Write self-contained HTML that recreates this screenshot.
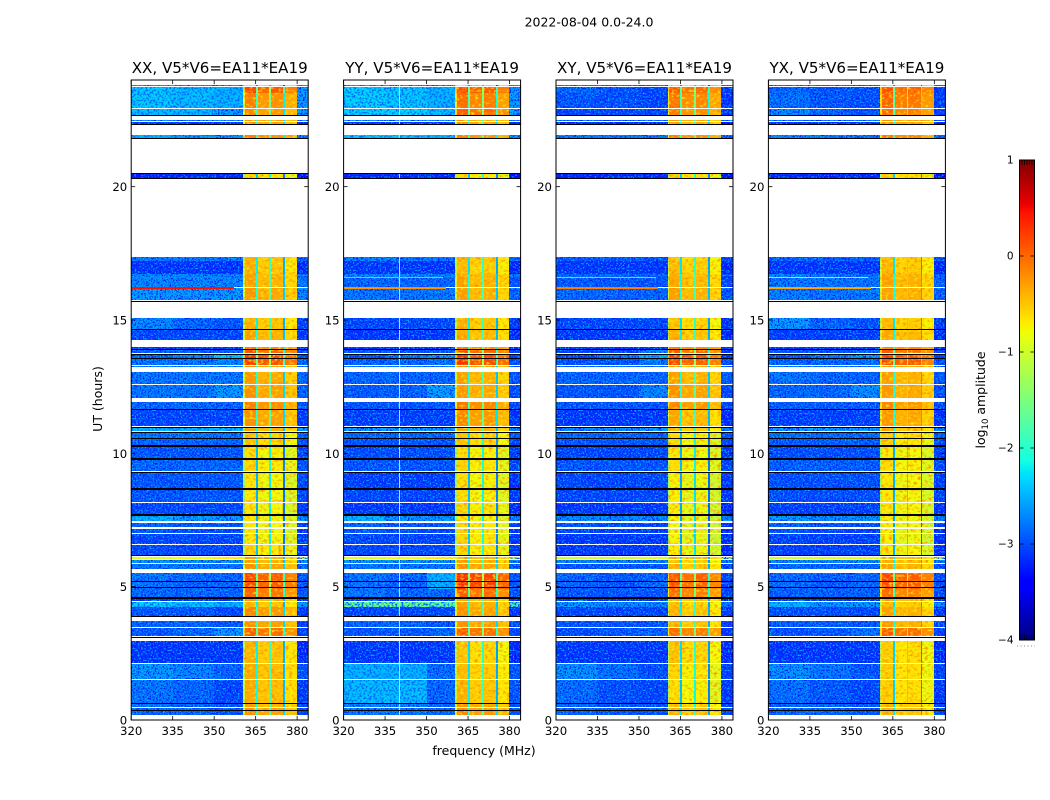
<!DOCTYPE html>
<html lang="en">
<head>
<meta charset="utf-8">
<title>2022-08-04 waterfall</title>
<style>
html,body{margin:0;padding:0;background:#fff;}
#figure{display:block;width:1050px;height:800px;}
text{font-family:"DejaVu Sans","Liberation Sans",sans-serif;fill:#000;}
</style>
</head>
<body>
<svg id="figure" xmlns="http://www.w3.org/2000/svg" width="1050" height="800" viewBox="0 0 1050 800">
<defs>
<filter id="speckle-low" x="0" y="0" width="1" height="1" color-interpolation-filters="sRGB">
<feTurbulence type="fractalNoise" baseFrequency="0.6" numOctaves="2" seed="4" result="n"/>
<feColorMatrix in="n" type="matrix" values="0 0 0 0 0  0 0 0 0 0.12  0 0 0 0 1  7 0 0 0 -3.4" result="d0"/>
<feColorMatrix in="n" type="matrix" values="0 0 0 0 0  0 0 0 0 0.66  0 0 0 0 1  0 7 0 0 -3.8" result="l0"/>
<feComposite in="d0" in2="SourceAlpha" operator="in" result="d1"/>
<feComposite in="l0" in2="SourceAlpha" operator="in" result="l1"/>
<feMerge><feMergeNode in="SourceGraphic"/><feMergeNode in="d1"/><feMergeNode in="l1"/></feMerge>
</filter>
<filter id="speckle-soft" x="0" y="0" width="1" height="1" color-interpolation-filters="sRGB">
<feTurbulence type="fractalNoise" baseFrequency="0.5" numOctaves="2" seed="7" result="n"/>
<feColorMatrix in="n" type="matrix" values="0 0 0 0 0  0 0 0 0 0.42  0 0 0 0 1  7 0 0 0 -3.4" result="d0"/>
<feComposite in="d0" in2="SourceAlpha" operator="in" result="d1"/>
<feMerge><feMergeNode in="SourceGraphic"/><feMergeNode in="d1"/></feMerge>
</filter>
<filter id="speckle-band" x="0" y="0" width="1" height="1" color-interpolation-filters="sRGB">
<feTurbulence type="fractalNoise" baseFrequency="0.28 0.4" numOctaves="2" seed="9" result="n"/>
<feColorMatrix in="n" type="matrix" values="0 0 0 0 1  0 0 0 0 0.55  0 0 0 0 0  3 0 0 0 -1.45" result="d0"/>
<feColorMatrix in="n" type="matrix" values="0 0 0 0 0.95  0 0 0 0 0.95  0 0 0 0 0.1  0 3 0 0 -1.6" result="l0"/>
<feComposite in="d0" in2="SourceAlpha" operator="in" result="d1"/>
<feComposite in="l0" in2="SourceAlpha" operator="in" result="l1"/>
<feMerge><feMergeNode in="SourceGraphic"/><feMergeNode in="d1"/><feMergeNode in="l1"/></feMerge>
</filter>
</defs>
<text x="589" y="26.5" font-size="12.5" text-anchor="middle">2022-08-04 0.0-24.0</text>
<text x="484" y="755" font-size="12.5" text-anchor="middle">frequency (MHz)</text>
<text transform="translate(102,399) rotate(-90)" font-size="12.5" text-anchor="middle">UT (hours)</text>
<g id="panels"></g>
<g id="colorbar"></g>
<text transform="translate(985,400) rotate(-90)" font-size="12.5" text-anchor="middle">log<tspan font-size="8.5" dy="3">10</tspan><tspan dy="-3"> amplitude</tspan></text>
</svg>
<script>
// ---- data (UT hours, MHz, log10 amplitude) ----
const panelTitles = ['XX, V5*V6=EA11*EA19','YY, V5*V6=EA11*EA19','XY, V5*V6=EA11*EA19','YX, V5*V6=EA11*EA19'];
const xTickLabels = [320,335,350,365,380];
const yTickLabels = [0,5,10,15,20];
const colorbarTicks = [-4,-3,-2,-1,0,1];
const rowStart = [0.20,0.48,0.65,1.54,2.12,3.15,3.49,3.87,4.25,4.48,4.62,4.90,5.65,5.90,6.02,6.20,6.60,7.02,7.22,7.45,7.72,8.18,8.68,9.33,9.82,10.30,10.58,10.83,11.02,11.67,12.09,12.61,13.24,13.33,13.58,13.75,13.92,14.25,14.67,15.74,16.25,16.62,16.74,17.23,20.31,21.81,22.35,22.46,22.68,22.96,23.50,23.80];
const rowEnd   = [0.45,0.65,1.50,2.09,2.97,3.45,3.70,4.25,4.44,4.62,4.90,5.50,5.85,6.00,6.10,6.55,6.99,7.18,7.40,7.65,8.12,8.62,9.28,9.76,10.25,10.54,10.79,10.98,11.63,11.92,12.57,13.04,13.29,13.54,13.71,13.88,13.98,14.63,15.07,16.20,16.60,16.71,17.20,17.37,20.50,21.94,22.43,22.50,22.92,23.50,23.75,23.83];
// each entry: [320-335, 335-350, 350-360, band 361-380]
const xxLevels = [[-2.85,-2.85,-2.95,-0.3],[-2.75,-2.85,-2.95,-0.4],[-2.75,-2.85,-3.05,-0.45],[-2.55,-2.65,-2.85,-0.45],[-3.15,-3.15,-3.15,-0.5],[-2.95,-2.85,-2.55,0],[-2.85,-2.85,-2.95,-0.3],[-2.95,-2.95,-3.05,-0.25],[-2.3,-2.4,-2.45,-0.5],[-3.15,-3.15,-3.15,-0.4],[-2.85,-2.85,-2.85,-0.05],[-2.75,-2.85,-2.85,0.1],[-2.75,-2.75,-2.75,-0.3],[-2.55,-2.55,-2.55,-0.4],[-0.9,-0.8,-0.7,-0.4],[-3.05,-3.05,-3.05,-0.7],[-3.05,-3.05,-3.05,-0.8],[-2.95,-3.05,-3.05,-0.8],[-2.85,-2.95,-2.95,-0.8],[-2.45,-2.55,-2.55,-0.8],[-3.05,-3.05,-3.05,-0.8],[-2.95,-2.95,-2.95,-0.8],[-2.95,-2.95,-2.95,-0.8],[-2.85,-2.85,-2.85,-0.7],[-2.95,-2.95,-2.95,-0.75],[-2.85,-2.85,-2.85,-0.6],[-2.75,-2.75,-2.75,-0.6],[-2.45,-2.45,-2.45,-0.4],[-3.05,-3.05,-3.05,-0.3],[-2.85,-2.85,-2.85,-0.2],[-2.75,-2.75,-2.55,-0.3],[-2.75,-2.75,-2.75,-0.35],[-2.65,-2.65,-2.65,-0.3],[-2.75,-2.75,-2.65,0.15],[-2.85,-2.65,-2.35,0.2],[-2.85,-2.85,-2.85,0.05],[-3.15,-3.15,-3.15,-0.2],[-3.05,-3.05,-3.05,-0.4],[-2.65,-2.85,-2.95,-0.5],[-2.55,-2.55,-2.55,-0.35],[-2.65,-2.65,-2.65,-0.4],[-2.65,-2.65,-2.65,-0.4],[-3.15,-3.15,-3.15,-0.5],[-2.75,-2.75,-2.75,-0.5],[-3.25,-3.25,-3.25,-0.7],[-2.45,-2.55,-2.55,-0.2],[-3.15,-3.15,-3.15,-0.3],[-2.65,-2.65,-2.65,-0.3],[-2.4,-2.4,-2.5,-0.25],[-2.35,-2.4,-2.45,-0.2],[-2.35,-2.4,-2.45,0.1],[-2.55,-2.55,-2.55,-1]];
const yyLevels = [[-2.75,-2.75,-2.85,-0.25],[-2.65,-2.65,-2.85,-0.35],[-2.4,-2.4,-2.85,-0.5],[-2.45,-2.45,-2.8,-0.55],[-3.15,-3.15,-3.15,-0.6],[-2.95,-2.95,-2.85,0],[-2.85,-2.85,-2.95,-0.3],[-3.05,-3.05,-3.05,-0.3],[-1.6,-1.6,-1.7,-0.4],[-3.15,-3.15,-3.15,-0.4],[-2.75,-2.85,-2.85,0],[-2.75,-2.85,-2.45,0.25],[-2.75,-2.75,-2.75,-0.3],[-2.55,-2.55,-2.55,-0.4],[-0.9,-0.8,-0.7,-0.4],[-3.05,-3.05,-3.05,-0.7],[-3.05,-3.05,-3.05,-0.7],[-2.95,-3.05,-3.05,-0.7],[-2.85,-2.95,-2.95,-0.7],[-2.45,-2.55,-2.55,-0.8],[-3.15,-3.15,-3.15,-0.7],[-3.05,-3.05,-3.05,-0.75],[-3.1,-3.1,-3.1,-0.75],[-2.95,-2.95,-2.95,-0.7],[-3,-3,-3,-0.75],[-2.95,-2.95,-2.95,-0.6],[-2.85,-2.85,-2.85,-0.6],[-2.55,-2.55,-2.55,-0.4],[-3.1,-3.1,-3.1,-0.25],[-2.95,-2.95,-2.95,-0.15],[-2.9,-2.9,-2.5,-0.35],[-2.85,-2.85,-2.85,-0.4],[-2.75,-2.75,-2.75,-0.3],[-2.85,-2.85,-2.75,0.2],[-2.95,-2.75,-2.55,0.2],[-2.95,-2.95,-2.95,0.05],[-3.15,-3.15,-3.15,-0.2],[-3.15,-3.15,-3.15,-0.45],[-3.05,-3.05,-3.05,-0.5],[-2.75,-2.75,-2.75,-0.4],[-2.85,-2.85,-2.85,-0.4],[-2.65,-2.65,-2.65,-0.4],[-3.15,-3.15,-3.15,-0.55],[-2.75,-2.75,-2.75,-0.5],[-3.25,-3.25,-3.25,-0.7],[-2.35,-2.35,-2.45,-0.2],[-3.15,-3.15,-3.15,-0.3],[-2.55,-2.55,-2.55,-0.3],[-2.3,-2.3,-2.4,0],[-2.3,-2.35,-2.45,-0.1],[-2.3,-2.35,-2.45,0.1],[-2.55,-2.55,-2.55,-1]];
const xyLevels = [[-2.85,-2.95,-2.95,-0.5],[-2.85,-2.95,-2.95,-0.6],[-2.8,-3,-3.05,-0.75],[-2.6,-2.8,-3,-0.7],[-3.15,-3.15,-3.15,-0.6],[-3.05,-2.95,-2.85,-0.1],[-2.95,-2.95,-2.95,-0.5],[-3.05,-3.05,-3.05,-0.5],[-2.55,-2.65,-2.65,-0.6],[-3.15,-3.15,-3.15,-0.5],[-2.95,-2.95,-2.95,-0.1],[-2.85,-2.95,-2.85,0.05],[-2.95,-2.95,-2.95,-0.5],[-2.65,-2.65,-2.65,-0.6],[-1,-1,-0.9,-0.5],[-3.15,-3.15,-3.15,-0.85],[-3.15,-3.15,-3.15,-0.9],[-3.05,-3.15,-3.15,-0.9],[-2.95,-3.05,-3.05,-0.9],[-2.65,-2.65,-2.65,-0.9],[-3.15,-3.15,-3.15,-0.85],[-3.05,-3.05,-3.05,-0.85],[-3.05,-3.05,-3.05,-0.85],[-2.95,-2.95,-2.95,-0.75],[-3.05,-3.05,-3.05,-0.8],[-2.95,-2.95,-2.95,-0.75],[-2.85,-2.85,-2.85,-0.75],[-2.65,-2.65,-2.55,-0.55],[-3.15,-3.15,-3.15,-0.45],[-2.95,-2.95,-2.95,-0.25],[-2.95,-2.95,-2.65,-0.3],[-2.85,-2.85,-2.85,-0.4],[-2.85,-2.85,-2.85,-0.4],[-2.95,-2.95,-2.75,0.1],[-3.05,-2.75,-2.45,0.15],[-3.05,-3.05,-2.65,0],[-3.15,-3.15,-3.15,-0.2],[-3.15,-3.15,-3.15,-0.5],[-3.05,-3.05,-3.05,-0.6],[-2.85,-2.85,-2.85,-0.4],[-2.95,-2.95,-2.95,-0.45],[-2.85,-2.85,-2.85,-0.45],[-3.15,-3.15,-3.15,-0.55],[-2.95,-2.95,-2.95,-0.6],[-3.25,-3.25,-3.25,-0.65],[-2.75,-2.75,-2.75,-0.2],[-3.25,-3.25,-3.25,-0.35],[-2.85,-2.85,-2.85,-0.35],[-3.05,-3.05,-3.05,-0.2],[-2.95,-3,-3.05,-0.15],[-2.85,-2.95,-3.05,0],[-2.75,-2.75,-2.75,-1]];
const yxLevels = [[-2.85,-2.85,-2.95,-0.5],[-2.85,-2.85,-2.95,-0.55],[-2.8,-2.95,-3.05,-0.65],[-2.6,-2.75,-2.95,-0.65],[-3.15,-3.15,-3.15,-0.65],[-3,-2.95,-2.75,0],[-2.9,-2.9,-2.95,-0.4],[-3,-3,-3.05,-0.4],[-2.45,-2.55,-2.55,-0.55],[-3.15,-3.15,-3.15,-0.45],[-2.9,-2.9,-2.9,-0.1],[-2.8,-2.9,-2.85,0.1],[-2.85,-2.85,-2.85,-0.4],[-2.6,-2.6,-2.6,-0.5],[-1,-0.9,-0.85,-0.45],[-3.1,-3.1,-3.1,-0.8],[-3.1,-3.1,-3.1,-0.85],[-3,-3.1,-3.1,-0.85],[-2.9,-3,-3,-0.85],[-2.55,-2.6,-2.6,-0.85],[-3.1,-3.1,-3.1,-0.8],[-3,-3,-3,-0.8],[-3,-3,-3,-0.8],[-2.9,-2.9,-2.9,-0.75],[-3,-3,-3,-0.8],[-2.9,-2.9,-2.9,-0.7],[-2.8,-2.8,-2.8,-0.65],[-2.55,-2.55,-2.55,-0.45],[-3.1,-3.1,-3.1,-0.35],[-2.9,-2.9,-2.9,-0.25],[-2.85,-2.85,-2.6,-0.35],[-2.75,-2.85,-2.85,-0.4],[-2.75,-2.75,-2.75,-0.35],[-2.85,-2.85,-2.75,0.1],[-2.95,-2.75,-2.55,0.15],[-2.95,-2.95,-2.85,0],[-3.15,-3.15,-3.15,-0.2],[-3.1,-3.1,-3.1,-0.45],[-2.55,-2.85,-3,-0.55],[-2.7,-2.75,-2.75,-0.4],[-2.75,-2.75,-2.75,-0.4],[-2.65,-2.75,-2.75,-0.4],[-3.15,-3.15,-3.15,-0.55],[-2.9,-2.9,-2.9,-0.55],[-3.25,-3.25,-3.25,-0.65],[-2.65,-2.7,-2.75,-0.15],[-3.2,-3.2,-3.2,-0.3],[-2.75,-2.75,-2.75,-0.3],[-2.65,-2.85,-2.95,-0.1],[-2.8,-2.95,-3,-0.05],[-2.85,-2.95,-3,0.05],[-2.75,-2.75,-2.75,-1]];
const panelLevels = [xxLevels, yyLevels, xyLevels, yxLevels];
// frequency structure of the band: channel edges and offset from the row's band level
const lowBandEdges = [320,335,350,360.4];
const bandEdges = [360.4,361,365,365.7,370,370.6,375,375.7,379.8];
const bandOffsets = [-0.6,0.1,-1.7,-0.05,-1.4,0,-2.0,-0.2];
const tailEdges = [379.8,384];
const tailOffset = -0.1;
// UT hours of fully flagged (black) integrations
const flaggedUT = [0.37,0.65,3.13,3.91,4.57,4.62,4.98,5.2,6.17,7.68,7.72,8.65,8.69,9.31,9.79,9.83,10.27,10.31,10.56,10.81,11.0,11.65,13.56,13.73,13.9,14.65,15.73,20.31,20.5,21.81,22.35,22.68];
// narrow-band interference streaks: UT and level per panel
const streakUT = [16.17,16.56];
const streakStops = [357,356];
const streakLevels = [[0.45,0.25],[-0.2,-0.3],[-0.1,-0.4],[-0.3,-0.6]];
// persistent RFI channel visible in YY only
const rfiPanel = 1;
const rfiFreq = 340;
const rfiLevel = -1.25;

// ---- axes & helpers ----
const NS = 'http://www.w3.org/2000/svg';
const panelLeft = [131.2, 343.6, 556, 768.4];
const panelWidth = 177, axisTop = 80, axisBottom = 720;
const xScale = (f, left) => left + (f - 320) * panelWidth / 64;
const yScale = ut => axisBottom - ut * (axisBottom - axisTop) / 24;
function jet(v) {
  const t = Math.min(1, Math.max(0, (v + 4) / 5));
  const seg = (pts) => {
    for (let i = 1; i < pts.length; i++) {
      if (t <= pts[i][0]) {
        const a = pts[i-1], b = pts[i];
        return a[1] + (b[1]-a[1]) * (t-a[0]) / (b[0]-a[0]);
      }
    }
    return pts[pts.length-1][1];
  };
  const r = seg([[0,0],[0.35,0],[0.66,1],[0.89,1],[1,0.5]]);
  const g = seg([[0,0],[0.125,0],[0.375,1],[0.64,1],[0.91,0],[1,0]]);
  const b = seg([[0,0.5],[0.11,1],[0.34,1],[0.65,0],[1,0]]);
  return 'rgb(' + Math.round(r*255) + ',' + Math.round(g*255) + ',' + Math.round(b*255) + ')';
}
function make(tag, parent, attrs) {
  const el = document.createElementNS(NS, tag);
  for (const k in attrs) el.setAttribute(k, attrs[k]);
  parent.appendChild(el);
  return el;
}
function cell(parent, left, f0, f1, u0, u1, v) {
  const y0 = Math.round(yScale(u1)), y1 = Math.round(yScale(u0));
  const x0 = Math.round(xScale(f0,left)), x1 = Math.round(xScale(f1,left));
  const el = make('rect', parent, {x: x0, y: y0, width: Math.max(1,x1-x0), height: Math.max(1,y1-y0), fill: jet(v), 'shape-rendering':'crispEdges'});
  
  
  return el;
}

const panelsRoot = document.getElementById('panels');
panelTitles.forEach((title, p) => {
  const left = panelLeft[p];
  const levels = panelLevels[p];
  const g = make('g', panelsRoot, {});
  
  

  const lowG = make('g', g, {filter:'url(#speckle-low)'});
  
  
  const softG = make('g', g, {filter:'url(#speckle-soft)'});
  
  
  const bandG = make('g', g, {filter:'url(#speckle-band)'});
  
  
  const plainG = make('g', g, {});
  
  

  const lowGroupFor = v => v > -1.5 ? plainG : (v > -2.5 ? softG : lowG);

  rowStart.forEach((u0, r) => {
    const u1 = rowEnd[r];
    const lv = levels[r];
    for (let c = 0; c < lowBandEdges.length - 1; c++) {
      cell(lowGroupFor(lv[c]), left, lowBandEdges[c], lowBandEdges[c+1], u0, u1, lv[c]);
    }
    cell(lowG, left, tailEdges[0], tailEdges[1], u0, u1, Math.min(lv[0],lv[1],lv[2]) + tailOffset);
    for (let c = 0; c < bandOffsets.length; c++) {
      cell(bandOffsets[c] < -1 ? plainG : bandG, left, bandEdges[c], bandEdges[c+1], u0, u1, lv[3] + bandOffsets[c]);
    }
    if (p === rfiPanel) {
      cell(plainG, left, rfiFreq, rfiFreq + 0.35, u0, u1, rfiLevel);
    }
  });

  streakUT.forEach((u, s) => {
    cell(plainG, left, 320, streakStops[s], u, u + 0.05, streakLevels[p][s]);
  });

  flaggedUT.forEach(u => {
    const yy = Math.round(yScale(u)) + 0.5;
    const line = make('line', g, {x1:left, x2:left+panelWidth, y1:yy, y2:yy, stroke:'#000', 'stroke-width':1, 'shape-rendering':'crispEdges'});
    
    
  });

  const frame = make('rect', g, {x:left, y:axisTop, width:panelWidth, height:axisBottom-axisTop, fill:'none', stroke:'#000', 'stroke-width':1});
  
  

  const titleEl = make('text', g, {x:left+panelWidth/2, y:73, 'font-size':15.1, 'text-anchor':'middle'});
  
  
  titleEl.textContent = title;

  xTickLabels.forEach(f => {
    const x = xScale(f, left);
    const t1 = make('line', g, {x1:x, x2:x, y1:axisBottom, y2:axisBottom-4, stroke:'#000', 'stroke-width':0.8});
    
    
    const t2 = make('line', g, {x1:x, x2:x, y1:axisTop, y2:axisTop+4, stroke:'#000', 'stroke-width':0.8});
    
    
    const lab = make('text', g, {x:x, y:735, 'font-size':11.7, 'text-anchor':'middle'});
    
    
    lab.textContent = f;
  });
  yTickLabels.forEach(u => {
    const y = yScale(u);
    const t1 = make('line', g, {x1:left, x2:left+4, y1:y, y2:y, stroke:'#000', 'stroke-width':0.8});
    
    
    const t2 = make('line', g, {x1:left+panelWidth-4, x2:left+panelWidth, y1:y, y2:y, stroke:'#000', 'stroke-width':0.8});
    
    
    const lab = make('text', g, {x:left-4, y:y+4.5, 'font-size':11.7, 'text-anchor':'end'});
    
    
    lab.textContent = u;
  });
});

// ---- colorbar ----
const cbRoot = document.getElementById('colorbar');
const cbLeft = 1019.5, cbWidth = 15, cbTop = 160, cbBottom = 640;
const cbY = v => cbBottom - (v + 4) * (cbBottom - cbTop) / 5;
for (let i = 0; i < 240; i++) {
  const v0 = -4 + i * 5 / 240, v1 = -4 + (i + 1) * 5 / 240;
  const seg = make('rect', cbRoot, {x:cbLeft, y:cbY(v1), width:cbWidth, height:cbY(v0)-cbY(v1)+0.3, fill:jet((v0+v1)/2)});
  
  
}
const cbFrame = make('rect', cbRoot, {x:cbLeft, y:cbTop, width:cbWidth, height:cbBottom-cbTop, fill:'none', stroke:'#000', 'stroke-width':1});


colorbarTicks.forEach(v => {
  const y = cbY(v);
  const lab = make('text', cbRoot, {x:1013.5, y:y+3.5, 'font-size':10.5, 'text-anchor':'end'});
  
  
  lab.textContent = v < 0 ? '\u2212' + Math.abs(v) : String(v);
  if (v > -4 && v < 1) {
    const tl = make('line', cbRoot, {x1:cbLeft, x2:cbLeft+4, y1:y, y2:y, stroke:'#000', 'stroke-width':0.8});
    
    
    const tr = make('line', cbRoot, {x1:cbLeft+cbWidth-4, x2:cbLeft+cbWidth, y1:y, y2:y, stroke:'#000', 'stroke-width':0.8});
    
    
  }
});
for (let i = 1; i <= 5; i++) {
  const x = cbLeft + i * cbWidth / 6;
  const m1 = make('line', cbRoot, {x1:x, x2:x, y1:cbTop, y2:cbTop+5, stroke:'#000', 'stroke-width':0.7});
  
  
  const m2 = make('line', cbRoot, {x1:x, x2:x, y1:cbBottom, y2:cbBottom-5, stroke:'#000', 'stroke-width':0.7});
  
  
}
const dots = make('line', cbRoot, {x1:1017, x2:1035, y1:646, y2:646, stroke:'#888', 'stroke-width':1, 'stroke-dasharray':'1 2.5'});


</script>
</body>
</html>
